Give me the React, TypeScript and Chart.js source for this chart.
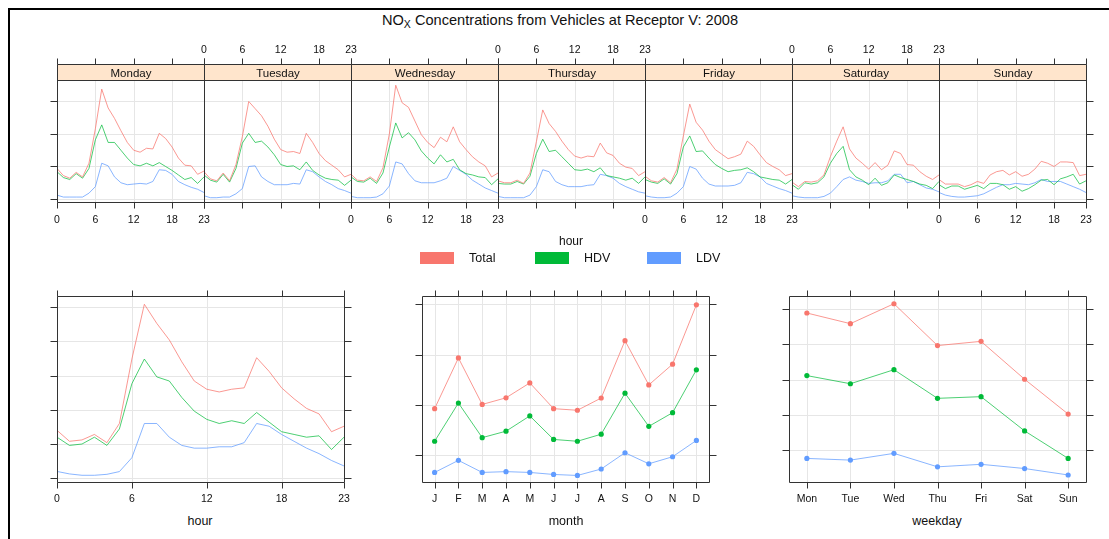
import React, { useEffect, useRef } from "react";
import { Chart, registerables } from "chart.js";
Chart.register(...registerables);

// ---------------- data ----------------
const HOURS = [0, 1, 2, 3, 4, 5, 6, 7, 8, 9, 10, 11, 12, 13, 14, 15, 16, 17, 18, 19, 20, 21, 22, 23];
const HOUR_TICKS = [0, 6, 12, 18, 23];
const HOUR_TICK_LABELS = ["0", "6", "12", "18", "23"];
const DAYS = ["Monday", "Tuesday", "Wednesday", "Thursday", "Friday", "Saturday", "Sunday"];
const SERIES = ["Total", "HDV", "LDV"];

const TOTAL_BY_DAY = [
  [47, 36, 32, 41, 34, 55, 108, 169, 140, 124, 105, 87, 75, 72, 78, 77, 101, 93, 80, 63, 52, 51, 38, 43],
  [42, 31, 28, 40, 28, 53, 96, 150, 139, 128, 112, 92, 76, 72, 73, 70, 101, 87, 70, 59, 52, 45, 34, 38],
  [38, 29, 28, 34, 27, 48, 100, 175, 148, 141, 120, 99, 87, 79, 95, 88, 111, 88, 76, 65, 57, 51, 34, 40],
  [28, 25, 25, 29, 24, 40, 88, 137, 116, 104, 89, 76, 66, 63, 66, 65, 86, 71, 67, 55, 49, 47, 36, 42],
  [35, 28, 26, 33, 25, 46, 97, 146, 118, 106, 89, 76, 69, 62, 65, 69, 89, 81, 68, 56, 50, 45, 36, 39],
  [26, 19, 27, 26, 28, 37, 65, 89, 111, 77, 63, 55, 46, 56, 45, 52, 74, 70, 53, 52, 42, 35, 30, 37],
  [30, 23, 23, 23, 19, 22, 27, 24, 37, 42, 44, 37, 42, 35, 38, 46, 58, 55, 50, 57, 57, 56, 36, 38],
];
const HDV_BY_DAY = [
  [42, 33, 30, 39, 32, 47, 91, 114, 87, 87, 75, 63, 53, 51, 55, 51, 56, 50, 44, 37, 30, 33, 24, 34],
  [37, 29, 26, 38, 26, 47, 86, 101, 87, 89, 80, 68, 53, 50, 51, 45, 57, 44, 37, 32, 30, 29, 21, 29],
  [34, 27, 26, 32, 24, 40, 80, 117, 94, 102, 91, 74, 63, 54, 68, 57, 61, 45, 39, 37, 34, 33, 22, 31],
  [24, 23, 23, 27, 23, 35, 70, 92, 73, 75, 65, 55, 45, 44, 46, 42, 48, 36, 34, 32, 29, 32, 24, 34],
  [30, 26, 24, 31, 23, 39, 80, 97, 73, 74, 63, 53, 47, 42, 44, 45, 48, 42, 34, 32, 30, 29, 23, 30],
  [22, 15, 25, 23, 25, 34, 55, 70, 81, 45, 34, 29, 22, 32, 21, 25, 37, 33, 30, 27, 23, 21, 16, 27],
  [22, 16, 20, 20, 15, 18, 21, 16, 24, 24, 22, 15, 19, 12, 16, 22, 29, 30, 22, 31, 34, 38, 23, 28],
];
const LDV_BY_DAY = [
  [6, 3, 3, 3, 3, 9, 19, 55, 51, 34, 25, 22, 23, 24, 23, 27, 45, 44, 38, 27, 22, 18, 15, 10],
  [5, 2, 2, 3, 3, 8, 16, 50, 51, 34, 27, 22, 22, 22, 24, 23, 45, 42, 34, 27, 22, 16, 13, 9],
  [4, 2, 2, 2, 3, 8, 20, 57, 54, 39, 28, 25, 25, 25, 28, 32, 50, 44, 38, 29, 23, 17, 13, 9],
  [4, 2, 2, 2, 2, 6, 19, 45, 42, 27, 22, 19, 19, 19, 21, 22, 38, 36, 32, 24, 19, 15, 11, 9],
  [5, 3, 2, 2, 3, 9, 19, 50, 46, 32, 23, 20, 20, 20, 21, 25, 41, 39, 34, 24, 20, 16, 13, 9],
  [5, 3, 2, 2, 2, 4, 9, 19, 30, 34, 29, 27, 24, 25, 25, 28, 38, 38, 25, 27, 22, 17, 15, 11],
  [10, 6, 4, 3, 3, 4, 5, 8, 13, 18, 22, 22, 24, 23, 22, 25, 30, 27, 27, 27, 23, 19, 15, 10],
];
const DAY_Y_TICKS = [0, 50, 100, 150];

const HOUR_TOTAL = [35, 27, 28, 32, 26, 40, 87, 127, 113, 101, 85, 71, 65, 63, 65, 66, 88, 78, 66, 58, 51, 47, 34, 38];
const HOUR_HDV = [30, 24, 25, 30, 24, 36, 69, 87, 74, 71, 59, 49, 43, 40, 42, 40, 48, 41, 34, 32, 30, 31, 21, 30];
const HOUR_LDV = [5, 3.2, 2.2, 2.2, 2.9, 4.9, 15, 40, 40, 30, 24, 22, 22, 23, 23, 26, 40, 38, 32, 27, 22, 18, 13, 9];
const HOUR_Y_TICKS = [0, 25, 50, 75, 100, 125];

const MONTHS = [1, 2, 3, 4, 5, 6, 7, 8, 9, 10, 11, 12];
const MONTH_LABELS = ["J", "F", "M", "A", "M", "J", "J", "A", "S", "O", "N", "D"];
const MONTH_TOTAL = [48.1, 73.3, 50.2, 53.5, 60.9, 48.1, 47.3, 53.4, 81.9, 59.9, 70.2, 99.7];
const MONTH_HDV = [31.9, 50.9, 33.7, 36.9, 44.5, 32.8, 31.9, 35.4, 55.8, 39.3, 46.1, 67.4];
const MONTH_LDV = [16.4, 22.4, 16.4, 16.8, 16.4, 15.4, 14.9, 18.1, 26.2, 20.7, 24.2, 32.3];
const MONTH_Y_TICKS = [25, 50, 75, 100];

const WEEKDAYS = [1, 2, 3, 4, 5, 6, 7];
const WEEKDAY_LABELS = ["Mon", "Tue", "Wed", "Thu", "Fri", "Sat", "Sun"];
const WEEKDAY_TOTAL = [73.7, 69.9, 77.0, 62.1, 63.6, 50.1, 37.7];
const WEEKDAY_HDV = [51.4, 48.5, 53.5, 43.3, 43.9, 31.7, 21.9];
const WEEKDAY_LDV = [21.9, 21.3, 23.7, 18.9, 19.8, 18.3, 16.0];
const WEEKDAY_Y_TICKS = [25, 37.5, 50, 62.5, 75];

// ---------------- style ----------------
const FONT = '"Liberation Sans", Arial, Helvetica, sans-serif';
const COLORS = ["#F8766D", "#00BA38", "#619CFF"];
const LINE_COLORS = ["rgba(248,118,109,0.75)", "rgba(0,186,56,0.7)", "rgba(97,156,255,0.75)"];
const GRID = "#E6E6E6";
const FRAME = "#333333";
const STRIP = "#FFE5CC";
const TEXT = "#111111";

type DecorCfg = {
  xTicks: number[];
  xLabels: string[];
  labelSide: "top" | "bottom" | "none";
  labelGap: number;
  yTicks: number[];
  yLeft: boolean;
  yRight: boolean;
  xGrid: number[];
  yGrid: number[];
  strip?: string;
  stripH?: number;
};

function makeDecor(cfg: DecorCfg) {
  return {
    id: "decor",
    beforeDatasetsDraw(chart: any) {
      const { ctx, chartArea: a, scales } = chart;
      const x = scales.x, y = scales.y;
      ctx.save();
      ctx.strokeStyle = GRID;
      ctx.lineWidth = 1;
      ctx.beginPath();
      cfg.xGrid.forEach((v) => {
        const p = Math.round(x.getPixelForValue(v)) + 0.5;
        ctx.moveTo(p, a.top);
        ctx.lineTo(p, a.bottom);
      });
      cfg.yGrid.forEach((v) => {
        const p = Math.round(y.getPixelForValue(v)) + 0.5;
        ctx.moveTo(a.left, p);
        ctx.lineTo(a.right, p);
      });
      ctx.stroke();
      ctx.restore();
    },
    afterDatasetsDraw(chart: any) {
      const { ctx, chartArea: a, scales } = chart;
      const x = scales.x, y = scales.y;
      const L = Math.round(a.left) + 0.5;
      const R = Math.round(a.right) + 0.5;
      const B = Math.round(a.bottom) + 0.5;
      const T = Math.round(a.top) - 0.5;
      const sh = cfg.stripH || 0;
      const top = cfg.strip ? T - sh : T;
      ctx.save();
      if (cfg.strip) {
        ctx.fillStyle = STRIP;
        ctx.fillRect(L, top, R - L, sh);
        ctx.fillStyle = TEXT;
        ctx.font = `11.5px ${FONT}`;
        ctx.textAlign = "center";
        ctx.textBaseline = "middle";
        ctx.fillText(cfg.strip, (L + R) / 2, top + sh / 2 + 1);
      }
      ctx.strokeStyle = FRAME;
      ctx.lineWidth = 1;
      ctx.beginPath();
      ctx.rect(L, top, R - L, B - top);
      if (cfg.strip) {
        ctx.moveTo(L, T);
        ctx.lineTo(R, T);
      }
      cfg.xTicks.forEach((v) => {
        const p = Math.round(x.getPixelForValue(v)) + 0.5;
        ctx.moveTo(p, B);
        ctx.lineTo(p, B + 6);
        ctx.moveTo(p, top);
        ctx.lineTo(p, top - 6);
      });
      cfg.yTicks.forEach((v) => {
        const p = Math.round(y.getPixelForValue(v)) + 0.5;
        if (cfg.yLeft) {
          ctx.moveTo(L, p);
          ctx.lineTo(L - 7, p);
        }
        if (cfg.yRight) {
          ctx.moveTo(R, p);
          ctx.lineTo(R + 7, p);
        }
      });
      ctx.stroke();
      if (cfg.labelSide !== "none") {
        ctx.fillStyle = TEXT;
        ctx.font = `10.5px ${FONT}`;
        ctx.textAlign = "center";
        ctx.textBaseline = "middle";
        cfg.xTicks.forEach((v, k) => {
          const p = x.getPixelForValue(v);
          const yy = cfg.labelSide === "bottom" ? B + cfg.labelGap : top - cfg.labelGap;
          ctx.fillText(cfg.xLabels[k], p, yy);
        });
      }
      ctx.restore();
    },
  };
}

function lineSets(xs: number[], series: number[][], points: boolean) {
  return series.map((vals, s) => ({
    label: SERIES[s],
    data: xs.map((xv, k) => ({ x: xv, y: vals[k] })),
    borderColor: LINE_COLORS[s],
    backgroundColor: COLORS[s],
    borderWidth: 1,
    pointRadius: points ? 2.6 : 0,
    pointBackgroundColor: COLORS[s],
    pointBorderWidth: 0,
    tension: 0,
    fill: false,
  }));
}

function makeConfig(
  datasets: any[],
  pad: { left: number; right: number; top: number; bottom: number },
  xr: [number, number],
  yr: [number, number],
  decor: DecorCfg
) {
  return {
    type: "line" as const,
    data: { datasets },
    options: {
      animation: false as const,
      responsive: false,
      maintainAspectRatio: false,
      events: [] as any[],
      layout: { padding: pad },
      plugins: { legend: { display: false }, tooltip: { enabled: false }, title: { display: false } },
      scales: {
        x: { type: "linear" as const, min: xr[0], max: xr[1], display: false },
        y: { type: "linear" as const, min: yr[0], max: yr[1], display: false },
      },
    },
    plugins: [makeDecor(decor)],
  };
}

function ChartPanel(props: { left: number; top: number; width: number; height: number; build: () => any }) {
  const ref = useRef<HTMLCanvasElement>(null);
  useEffect(() => {
    const chart = new Chart(ref.current as HTMLCanvasElement, props.build());
    return () => chart.destroy();
  }, []);
  return (
    <canvas
      ref={ref}
      width={props.width}
      height={props.height}
      style={{ position: "absolute", left: props.left, top: props.top, width: props.width, height: props.height }}
    />
  );
}

// ---------------- layout ----------------
const DAY_LEFT = 57;
const DAY_W = 147;
const DAY_TOP_CANVAS = 35;
const DAY_PAD = { left: 10, right: 10, top: 46, bottom: 28 };
const DAY_CANVAS_H = 195;

const BOT_TOP = 285;
const BOT_PAD_TB = { top: 12, bottom: 28 };
const BOT_H = 225;

function Label(props: { x: number; y: number; size: number; children: any }) {
  return (
    <div
      style={{
        position: "absolute",
        left: props.x,
        top: props.y,
        transform: "translate(-50%, -50%)",
        fontSize: props.size,
        lineHeight: 1,
        whiteSpace: "nowrap",
        color: TEXT,
      }}
    >
      {props.children}
    </div>
  );
}

export default function App() {
  const dayPanels = DAYS.map((d, i) => (
    <ChartPanel
      key={d}
      left={DAY_LEFT + DAY_W * i - DAY_PAD.left}
      top={DAY_TOP_CANVAS}
      width={DAY_W + DAY_PAD.left + DAY_PAD.right}
      height={DAY_CANVAS_H}
      build={() =>
        makeConfig(
          lineSets(HOURS, [TOTAL_BY_DAY[i], HDV_BY_DAY[i], LDV_BY_DAY[i]], false),
          DAY_PAD,
          [0, 23],
          [-4.6, 181.5],
          {
            xTicks: HOUR_TICKS,
            xLabels: HOUR_TICK_LABELS,
            labelSide: i % 2 === 1 ? "top" : "bottom",
            labelGap: i % 2 === 1 ? 14 : 18,
            yTicks: DAY_Y_TICKS,
            yLeft: i === 0,
            yRight: i === 6,
            xGrid: [6, 12, 18],
            yGrid: DAY_Y_TICKS,
            strip: d,
            stripH: 16,
          }
        )
      }
    />
  ));

  return (
    <div
      style={{
        position: "fixed",
        left: 0,
        top: 0,
        width: 1109,
        height: 539,
        background: "#fff",
        overflow: "hidden",
        fontFamily: FONT,
      }}
    >
      <div
        style={{
          position: "absolute",
          left: 8,
          top: 8,
          width: 1101,
          height: 531,
          borderTop: "2px solid #000",
          borderLeft: "2px solid #000",
          boxSizing: "border-box",
        }}
      />
      <Label x={560} y={21} size={14.6}>
        NO<sub style={{ fontSize: "0.72em", verticalAlign: "-0.3em" }}>X</sub> Concentrations from Vehicles at Receptor V: 2008
      </Label>

      {dayPanels}

      <Label x={571} y={241} size={12}>hour</Label>

      {SERIES.map((s, k) => {
        const sx = [420, 535, 647][k];
        return (
          <React.Fragment key={s}>
            <div style={{ position: "absolute", left: sx, top: 252, width: 34, height: 12, background: COLORS[k] }} />
            <div
              style={{ position: "absolute", left: sx + 49, top: 252, fontSize: 12.5, lineHeight: "13px", color: TEXT }}
            >
              {s}
            </div>
          </React.Fragment>
        );
      })}

      <ChartPanel
        left={57 - 20}
        top={BOT_TOP}
        width={287 + 40}
        height={BOT_H}
        build={() =>
          makeConfig(
            lineSets(HOURS, [HOUR_TOTAL, HOUR_HDV, HOUR_LDV], false),
            { left: 20, right: 20, ...BOT_PAD_TB },
            [0, 23],
            [-2.7, 132.3],
            {
              xTicks: HOUR_TICKS,
              xLabels: HOUR_TICK_LABELS,
              labelSide: "bottom",
              labelGap: 17,
              yTicks: HOUR_Y_TICKS,
              yLeft: true,
              yRight: true,
              xGrid: [6, 12, 18],
              yGrid: HOUR_Y_TICKS,
            }
          )
        }
      />
      <ChartPanel
        left={422 - 20}
        top={BOT_TOP}
        width={287 + 40}
        height={BOT_H}
        build={() =>
          makeConfig(
            lineSets(MONTHS, [MONTH_TOTAL, MONTH_HDV, MONTH_LDV], true),
            { left: 20, right: 20, ...BOT_PAD_TB },
            [0.47, 12.53],
            [11.65, 103.6],
            {
              xTicks: MONTHS,
              xLabels: MONTH_LABELS,
              labelSide: "bottom",
              labelGap: 17,
              yTicks: MONTH_Y_TICKS,
              yLeft: true,
              yRight: true,
              xGrid: MONTHS,
              yGrid: MONTH_Y_TICKS,
            }
          )
        }
      />
      <ChartPanel
        left={789 - 20}
        top={BOT_TOP}
        width={297 + 40}
        height={BOT_H}
        build={() =>
          makeConfig(
            lineSets(WEEKDAYS, [WEEKDAY_TOTAL, WEEKDAY_HDV, WEEKDAY_LDV], true),
            { left: 20, right: 20, ...BOT_PAD_TB },
            [0.59, 7.41],
            [13.5, 79.4],
            {
              xTicks: WEEKDAYS,
              xLabels: WEEKDAY_LABELS,
              labelSide: "bottom",
              labelGap: 17,
              yTicks: WEEKDAY_Y_TICKS,
              yLeft: true,
              yRight: true,
              xGrid: WEEKDAYS,
              yGrid: WEEKDAY_Y_TICKS,
            }
          )
        }
      />

      <Label x={200} y={521} size={12.5}>hour</Label>
      <Label x={566} y={521} size={12.5}>month</Label>
      <Label x={937} y={521} size={12.5}>weekday</Label>
    </div>
  );
}
